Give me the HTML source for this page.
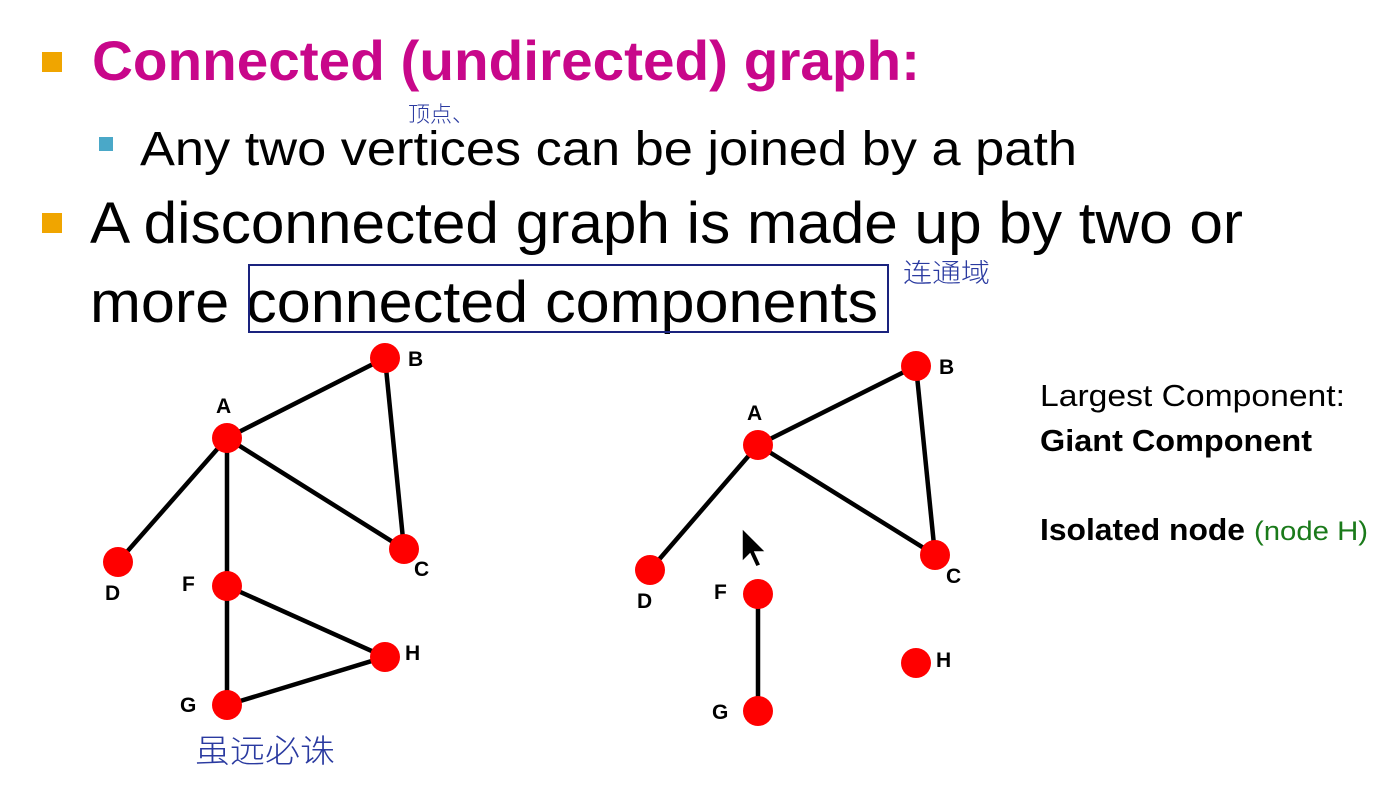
<!DOCTYPE html>
<html><head><meta charset="utf-8"><style>
html,body{margin:0;padding:0;background:#fff;width:1374px;height:799px;overflow:hidden}
svg{display:block}
</style></head><body>
<svg width="1374" height="799" viewBox="0 0 1374 799" xmlns="http://www.w3.org/2000/svg">
<rect width="1374" height="799" fill="#fff"/>
<g font-family="'Liberation Sans', sans-serif">
<rect x="42" y="52" width="20" height="20" fill="#f0a500"/>
<text x="92" y="80" font-size="56" font-weight="bold" fill="#c8078a" textLength="828" lengthAdjust="spacingAndGlyphs">Connected (undirected) graph:</text>
<rect x="99" y="137" width="14" height="14" fill="#4aa8c8"/>
<text x="140" y="165" font-size="48" fill="#000" textLength="937" lengthAdjust="spacingAndGlyphs">Any two vertices can be joined by a path</text>
<rect x="42" y="213" width="20" height="20" fill="#f0a500"/>
<text x="90" y="243" font-size="58" fill="#000" textLength="1153" lengthAdjust="spacingAndGlyphs">A disconnected graph is made up by two or</text>
<text x="90" y="322" font-size="58" fill="#000" textLength="788" lengthAdjust="spacingAndGlyphs">more connected components</text>
<rect x="249" y="265" width="639" height="67" fill="none" stroke="#1a237e" stroke-width="2"/>
</g>
<g font-family="'Noto Sans CJK SC', sans-serif" fill="#2a3aa0" font-weight="300">
<text x="408" y="122" font-size="22">顶点、</text>
<text x="903" y="282" font-size="26" textLength="87" lengthAdjust="spacingAndGlyphs">连通域</text>
<text x="195" y="762" font-size="32" textLength="140" lengthAdjust="spacingAndGlyphs">虽远必诛</text>
</g>
<g stroke="#000" stroke-width="4.5">
<line x1="227" y1="438" x2="385" y2="358"/>
<line x1="385" y1="358" x2="404" y2="549"/>
<line x1="227" y1="438" x2="404" y2="549"/>
<line x1="227" y1="438" x2="118" y2="562"/>
<line x1="227" y1="438" x2="227" y2="586"/>
<line x1="227" y1="586" x2="385" y2="657"/>
<line x1="227" y1="586" x2="227" y2="705"/>
<line x1="227" y1="705" x2="385" y2="657"/>
<line x1="758" y1="445" x2="916" y2="366"/>
<line x1="916" y1="366" x2="935" y2="555"/>
<line x1="758" y1="445" x2="935" y2="555"/>
<line x1="758" y1="445" x2="650" y2="570"/>
<line x1="758" y1="594" x2="758" y2="711"/>
</g>
<g fill="#f00">
<circle cx="227" cy="438" r="15"/><circle cx="385" cy="358" r="15"/><circle cx="404" cy="549" r="15"/>
<circle cx="118" cy="562" r="15"/><circle cx="227" cy="586" r="15"/><circle cx="385" cy="657" r="15"/>
<circle cx="227" cy="705" r="15"/>
<circle cx="758" cy="445" r="15"/><circle cx="916" cy="366" r="15"/><circle cx="935" cy="555" r="15"/>
<circle cx="650" cy="570" r="15"/><circle cx="758" cy="594" r="15"/><circle cx="916" cy="663" r="15"/>
<circle cx="758" cy="711" r="15"/>
</g>
<g font-family="'Liberation Sans', sans-serif" font-weight="bold" font-size="21" fill="#000">
<text x="216" y="413">A</text><text x="408" y="366">B</text><text x="414" y="576">C</text>
<text x="105" y="600">D</text><text x="182" y="591">F</text><text x="405" y="660">H</text><text x="180" y="712">G</text>
<text x="747" y="420">A</text><text x="939" y="374">B</text><text x="946" y="583">C</text>
<text x="637" y="608">D</text><text x="714" y="599">F</text><text x="936" y="667">H</text><text x="712" y="719">G</text>
</g>
<path d="M742 528 L742 562 L750 554 L756 567 L761 565 L755 552 L766 552 Z" fill="#000" stroke="#fff" stroke-width="1.5"/>
<g font-family="'Liberation Sans', sans-serif" font-size="31" fill="#000">
<text x="1040" y="406" textLength="305" lengthAdjust="spacingAndGlyphs">Largest Component:</text>
<text x="1040" y="451" font-weight="bold" textLength="272" lengthAdjust="spacingAndGlyphs">Giant Component</text>
<text x="1040" y="540" font-weight="bold" textLength="205" lengthAdjust="spacingAndGlyphs">Isolated node</text>
<text x="1254" y="540" font-size="27" fill="#1a7a1a" textLength="114" lengthAdjust="spacingAndGlyphs">(node H)</text>
</g>
</svg>
</body></html>
